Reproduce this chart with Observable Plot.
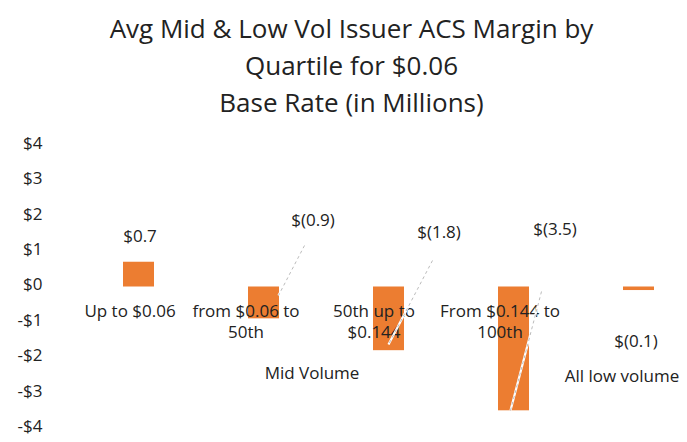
<!DOCTYPE html>
<html>
<head>
<meta charset="utf-8">
<script src="https://cdn.jsdelivr.net/npm/d3@7"></script>
<script src="https://cdn.jsdelivr.net/npm/@observablehq/plot@0.6"></script>
<style>
  html, body { margin: 0; padding: 0; background: #fff; }
  #wrap { width: 687px; height: 442px; font-family: "Open Sans", Lato, sans-serif; color: #222; }
  #title { height: 125px; box-sizing: border-box; padding-top: 10px; text-align: center; font-size: 26px; line-height: 37px; padding-left: 16px; }
</style>
</head>
<body>
<div id="wrap">
  <div id="title">Avg Mid &amp; Low Vol Issuer ACS Margin by<br>Quartile for $0.06<br>Base Rate (in Millions)</div>
  <div id="chart"></div>
</div>
<script>
const categories = ["Up to $0.06", "from $0.06 to 50th", "50th up to $0.144", "From $0.144 to 100th", "All low volume"];
const categoryLines = [["Up to $0.06"], ["from $0.06 to", "50th"], ["50th up to", "$0.144"], ["From $0.144 to", "100th"], ["All low volume"]];
const values = [0.7, -0.9, -1.8, -3.5, -0.1];
const valueLabels = ["$0.7", "$(0.9)", "$(1.8)", "$(3.5)", "$(0.1)"];
const groupLabel = "Mid Volume";
const yTicks = [-4, -3, -2, -1, 0, 1, 2, 3, 4];

// label layout (pixel nudges from the bar centre at $0), kept apart from the data
const valueNudge = [[1, -50], [49, -66], [50, -54], [41, -57], [-3, 55]];
const catNudge = [[-9, 15], [-18, 15], [-15, 15], [-14, 15], [-17, 80]];
const leaders = [null, [[41, -41], [15, 9]], [[44, -26], [0, 58]], [[28, 5], [-3, 124]], null];

const data = categories.map((c, i) => ({cat: c, value: values[i], label: valueLabels[i], lines: categoryLines[i].join("\n"), i}));
const orange = "#ec7d31";
const ink = "#222";
const font = '"Open Sans", Lato, sans-serif';
const fs = 17;

const marks = [
  Plot.axisY({ticks: yTicks, tickSize: 0, tickPadding: 4, dy: -2, tickFormat: d => d < 0 ? `-$${-d}` : `$${d}`, fontSize: fs, fill: ink, label: null}),
  Plot.barY(data, {x: "cat", y: "value", fill: orange})
];
data.forEach(d => {
  marks.push(Plot.text([d], {x: "cat", y: 0, text: "label", fontSize: fs, fill: ink,
    dx: valueNudge[d.i][0], dy: valueNudge[d.i][1]}));
  marks.push(Plot.text([d], {x: "cat", y: 0, text: "lines", fontSize: fs, fill: ink, lineHeight: 1.25, lineAnchor: "top",
    dx: catNudge[d.i][0], dy: catNudge[d.i][1]}));
});
marks.push(Plot.text([groupLabel], {x: () => categories[1], y: 0, text: d => d, fontSize: fs, fill: ink, dx: 48, dy: 87}));

const chart = Plot.plot({
  width: 687,
  height: 317,
  marginLeft: 46,
  marginRight: 0,
  marginTop: 20,
  marginBottom: 14,
  style: {fontFamily: font, background: "#fff"},
  x: {domain: categories, range: [74, 703], paddingInner: 0.755, paddingOuter: 0.38, axis: null},
  y: {domain: [-4, 4], axis: null},
  marks
});

// faint leader lines, positioned through the chart's own scales
const xs = chart.scale("x"), ys = chart.scale("y");
const bw = xs.bandwidth;
const g = d3.select(chart).append("g");
data.forEach(d => {
  const L = leaders[d.i];
  if (!L) return;
  const cx = xs.apply(d.cat) + bw / 2, cy = ys.apply(0);
  const seg = g.append("g");
  seg.append("line").attr("x1", cx + L[0][0]).attr("y1", cy + L[0][1]).attr("x2", cx + L[1][0]).attr("y2", cy + L[1][1])
    .attr("stroke", "#fff").attr("stroke-width", 2.2);
  seg.append("line").attr("x1", cx + L[0][0]).attr("y1", cy + L[0][1]).attr("x2", cx + L[1][0]).attr("y2", cy + L[1][1])
    .attr("stroke", "#aaa").attr("stroke-width", 0.8).attr("stroke-dasharray", "3,3");
});
document.getElementById("chart").appendChild(chart);
</script>
</body>
</html>
